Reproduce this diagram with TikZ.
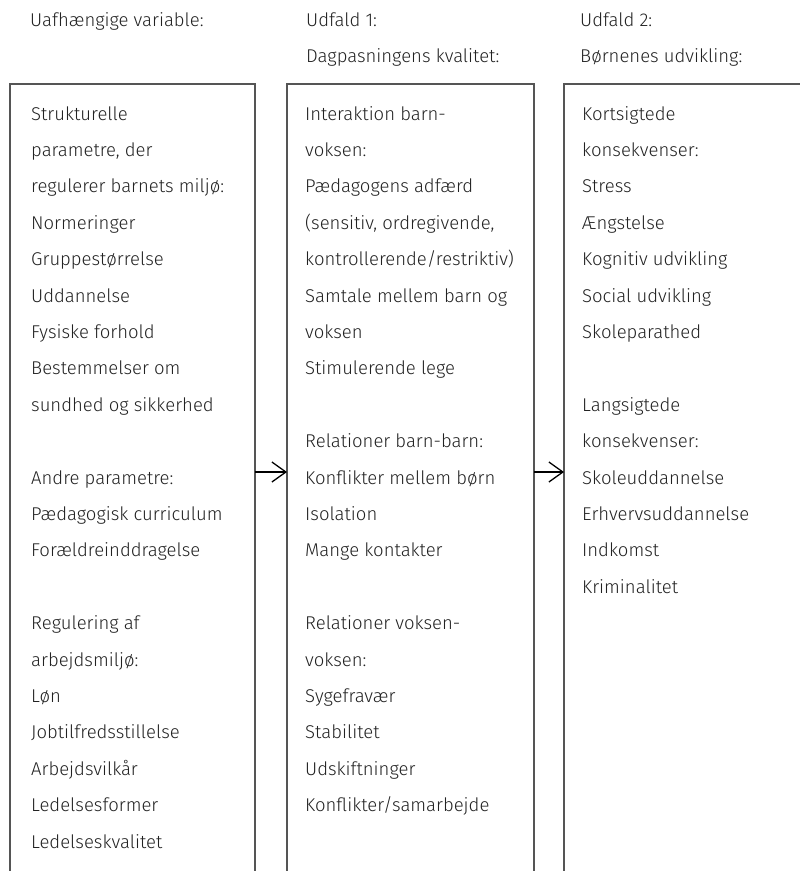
\documentclass[tikz,border=0pt]{standalone}
\usepackage{fontspec}
\setmainfont{Fira Sans Light}
\usetikzlibrary{arrows.meta}
\definecolor{txtc}{HTML}{222222}
\definecolor{boxc}{HTML}{555555}
\tikzset{
  txt/.style={anchor=base west, inner sep=0pt, text=txtc, font=\fontsize{18.5}{22}\selectfont},
  colbox/.style={draw=boxc, line width=1.2pt, rectangle, anchor=north west, outer sep=0pt, inner sep=0pt},
  arr/.style={draw=black, line width=1.3pt, -{Straight Barb[length=14pt,width=20pt,line width=1.3pt]}}
}
\begin{document}
\begin{tikzpicture}[x=1pt,y=-1pt]
\clip (0,0) rectangle (800,871);
\path[use as bounding box] (0,0) rectangle (800,871);
% headers
\node[txt] (h1) at (30,26) {Uafhængige variable:};
\node[txt] (h2) at (306,26) {Udfald 1:};
\node[txt] (h3) at (306,62.5) {Dagpasningens kvalitet:};
\node[txt] (h4) at (580,26) {Udfald 2:};
\node[txt] (h5) at (580,62.5) {Børnenes udvikling:};
% boxes
\node[colbox, minimum width=245pt, minimum height=830pt] (box1) at (10,84) {};
\node[colbox, minimum width=247pt, minimum height=830pt] (box2) at (287,84) {};
\node[colbox, minimum width=260pt, minimum height=830pt] (box3) at (564,84) {};
% column 1
\foreach \i/\t in {0/Strukturelle, 1/{parametre, der}, 2/{regulerer barnets miljø:}, 3/Normeringer,
  4/Gruppestørrelse, 5/Uddannelse, 6/{Fysiske forhold}, 7/{Bestemmelser om}, 8/{sundhed og sikkerhed},
  10/{Andre parametre:}, 11/{Pædagogisk curriculum}, 12/Forældreinddragelse,
  14/{Regulering af}, 15/{arbejdsmiljø:}, 16/Løn, 17/Jobtilfredsstillelse, 18/Arbejdsvilkår,
  19/Ledelsesformer, 20/Ledelseskvalitet}
  \node[txt] (a\i) at (31,120+36.4*\i) {\t};
% column 2
\foreach \i/\t in {0/{Interaktion barn-}, 1/{voksen:}, 2/{Pædagogens adfærd}, 3/{(sensitiv, ordregivende,}, 4/{kontrollerende/restriktiv)},
  5/{Samtale mellem barn og}, 6/voksen, 7/{Stimulerende lege},
  9/{Relationer barn-barn:}, 10/{Konflikter mellem børn}, 11/Isolation, 12/{Mange kontakter},
  14/{Relationer voksen-}, 15/{voksen:}, 16/Sygefravær, 17/Stabilitet, 18/Udskiftninger, 19/{Konflikter/samarbejde}}
  \node[txt] (b\i) at (305,120+36.4*\i) {\t};
% column 3
\foreach \i/\t in {0/Kortsigtede, 1/{konsekvenser:}, 2/Stress, 3/Ængstelse, 4/{Kognitiv udvikling},
  5/{Social udvikling}, 6/Skoleparathed, 8/Langsigtede, 9/{konsekvenser:}, 10/Skoleuddannelse,
  11/Erhvervsuddannelse, 12/Indkomst, 13/Kriminalitet}
  \node[txt] (c\i) at (582,120+36.4*\i) {\t};
% arrows
\coordinate (ar1) at ([yshift=12pt]b10.base);
\coordinate (ar2) at ([yshift=12pt]c10.base);
\draw[arr] (box1.east |- ar1) -- (box2.west |- ar1);
\draw[arr] (box2.east |- ar2) -- (box3.west |- ar2);
\end{tikzpicture}
\end{document}
